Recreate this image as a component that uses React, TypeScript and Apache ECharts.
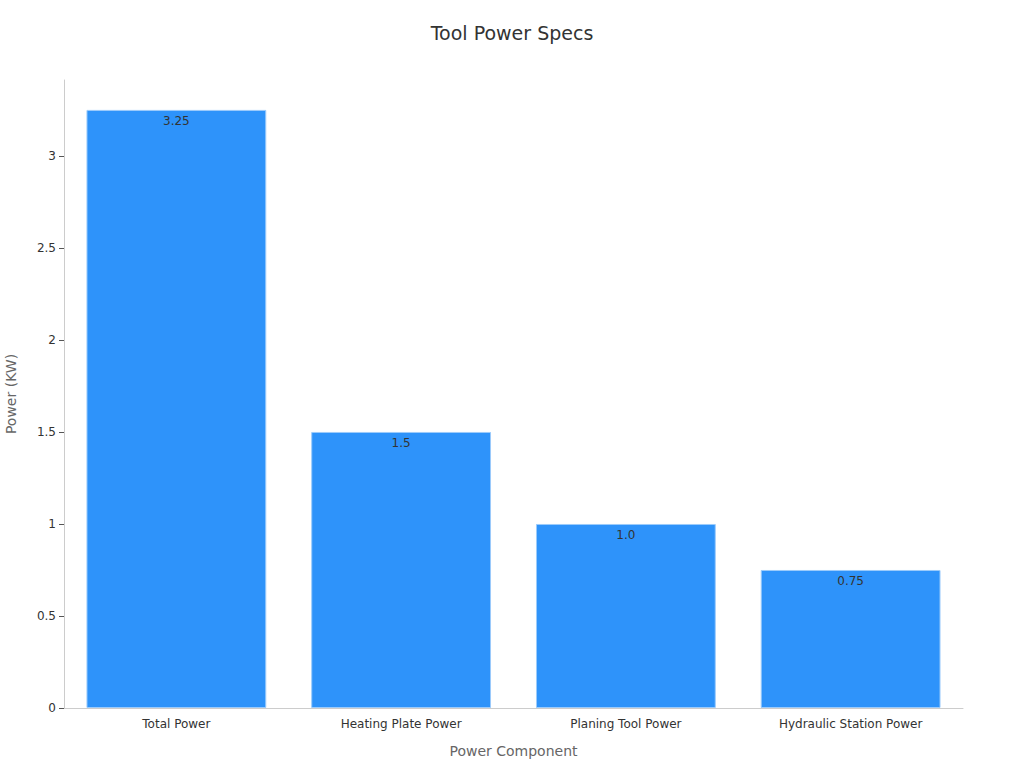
import { useEffect, useRef } from 'react';
import * as echarts from 'echarts';

const categories = ['Total Power', 'Heating Plate Power', 'Planing Tool Power', 'Hydraulic Station Power'];
const powerValues = [3.25, 1.5, 1.0, 0.75];
const yTicks = [0, 0.5, 1, 1.5, 2, 2.5, 3];

const FONT = '"DejaVu Sans", sans-serif';

export default function App() {
  const chartRef = useRef<HTMLDivElement>(null);

  useEffect(() => {
    document.body.style.margin = '0';
    if (!chartRef.current) return;
    const chart = echarts.init(chartRef.current, undefined, { renderer: 'svg' });

    chart.setOption({
      animation: false,
      backgroundColor: '#ffffff',
      textStyle: { fontFamily: FONT },
      title: {
        text: 'Tool Power Specs',
        left: 'center',
        top: 18,
        textStyle: { color: '#333333', fontSize: 19, fontWeight: 'normal', fontFamily: FONT },
      },
      grid: { left: 64, right: 61, top: 80, bottom: 60, outerBoundsMode: 'none' },
      xAxis: {
        type: 'category',
        data: categories,
        name: 'Power Component',
        nameLocation: 'middle',
        nameGap: 36,
        nameTextStyle: { color: '#666666', fontSize: 14, fontFamily: FONT },
        axisLine: { lineStyle: { color: '#cccccc' } },
        axisTick: { alignWithLabel: true, length: 5, lineStyle: { color: '#555555' } },
        axisLabel: { color: '#333333', fontSize: 12, margin: 10, fontFamily: FONT },
      },
      yAxis: {
        type: 'value',
        min: 0,
        max: 3.4125,
        name: 'Power (KW)',
        nameLocation: 'middle',
        nameGap: 46,
        nameTextStyle: { color: '#666666', fontSize: 14, fontFamily: FONT },
        splitLine: { show: false },
        axisLine: { show: true, lineStyle: { color: '#cccccc' } },
        axisTick: { show: true, length: 5, customValues: yTicks, lineStyle: { color: '#555555' } },
        axisLabel: { color: '#333333', fontSize: 12, margin: 8, customValues: yTicks, fontFamily: FONT },
      },
      series: [
        {
          type: 'bar',
          data: powerValues,
          barCategoryGap: '20%',
          itemStyle: { color: '#2e93fa', borderColor: '#9ccbfb', borderWidth: 1 },
          label: {
            show: true,
            position: 'insideTop',
            distance: 5,
            color: '#333333',
            fontSize: 12,
            fontFamily: FONT,
            formatter: (p: any) => (Number.isInteger(p.value) ? p.value.toFixed(1) : String(p.value)),
          },
        },
      ],
    });

    return () => {
      chart.dispose();
    };
  }, []);

  return <div ref={chartRef} style={{ width: 1024, height: 768 }} />;
}
